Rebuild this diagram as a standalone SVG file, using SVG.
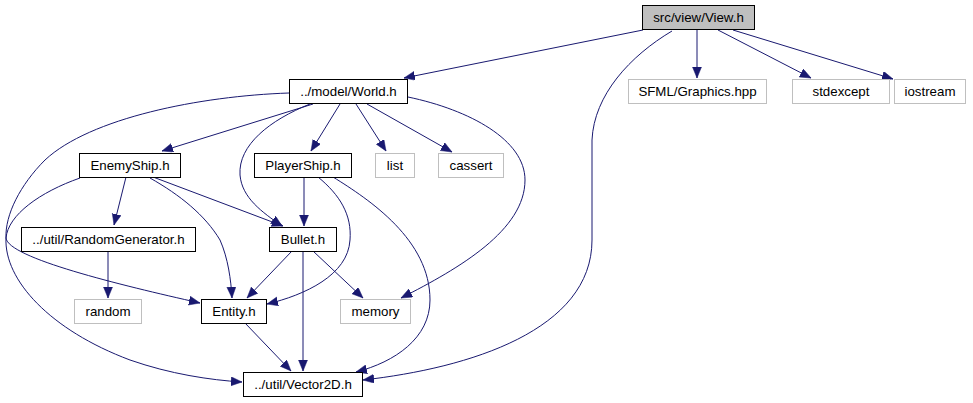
<svg xmlns="http://www.w3.org/2000/svg" width="973" height="403" viewBox="0 0 973 403">
<style>
.n rect{fill:#fff;stroke:#000;stroke-width:1}
.g rect{fill:#fff;stroke:#bfbfbf;stroke-width:1}
.r rect{fill:#bfbfbf;stroke:#000;stroke-width:1}
text{font-family:"Liberation Sans",Arial,sans-serif;font-size:13.3px;fill:#000;text-anchor:middle}
#edges path{fill:none;stroke:#191970;stroke-width:1;marker-end:url(#ah)}
</style>
<defs>
<marker id="ah" markerUnits="userSpaceOnUse" markerWidth="12" markerHeight="10" refX="11" refY="4.5" orient="auto">
<path d="M0,0 L11,4.5 L0,9 z" fill="#191970" stroke="#191970" stroke-width="0.5"/>
</marker>
</defs>
<rect width="973" height="403" fill="#fff"/>
<g id="edges">
<path d="M643,30 L404,78"/>
<path d="M672,31 C630,56 594,95 592,140 L592,240 C592,330 470,368 363,380"/>
<path d="M697,30 L697,78"/>
<path d="M718,30 L811,78"/>
<path d="M733,30 L893,79"/>
<path d="M313,104 L162,151"/>
<path d="M340,104 L311,151"/>
<path d="M356,104 L386,151"/>
<path d="M367,104 L452,152"/>
<path d="M310,104 C270,120 238,145 240,175 C242,198 262,212 282,226"/>
<path d="M289,93 C200,96 90,118 45,160 C20,185 5,215 6,238 C8,258 120,285 200,303"/>
<path d="M408,97 C470,110 525,140 525,180 C525,230 460,268 401,298"/>
<path d="M80,178 C40,192 8,215 6,238 C4,280 50,330 130,360 C170,374 210,380 242,382"/>
<path d="M150,178 C180,195 205,215 220,240 C228,258 231,280 232,298"/>
<path d="M126,177 L114,225"/>
<path d="M153,177 L283,226"/>
<path d="M304,177 L304,226"/>
<path d="M318,177 C340,195 352,215 350,240 C348,275 305,295 267,304"/>
<path d="M333,177 C370,200 430,240 430,300 C430,338 395,362 356,372"/>
<path d="M108,251 L108,298"/>
<path d="M292,251 L247,298"/>
<path d="M303,251 L303,371"/>
<path d="M313,251 L363,298"/>
<path d="M245,323 L291,371"/>
</g>
<g id="view" class="r"><rect x="642.5" y="5.5" width="112" height="24"/><text x="698.5" y="22">src/view/View.h</text></g>
<g id="sfml" class="g"><rect x="628.5" y="79.5" width="138" height="24"/><text x="697.5" y="96">SFML/Graphics.hpp</text></g>
<g id="stdexcept" class="g"><rect x="792.5" y="79.5" width="97" height="24"/><text x="841" y="96">stdexcept</text></g>
<g id="iostream" class="g"><rect x="894.5" y="79.5" width="71" height="24"/><text x="930" y="96">iostream</text></g>
<g id="world" class="n"><rect x="289.5" y="79.5" width="118" height="24"/><text x="348.5" y="96">../model/World.h</text></g>
<g id="enemyship" class="n"><rect x="79.5" y="153.5" width="101" height="24"/><text x="130" y="170">EnemyShip.h</text></g>
<g id="playership" class="n"><rect x="254.5" y="153.5" width="97" height="24"/><text x="303" y="170">PlayerShip.h</text></g>
<g id="list" class="g"><rect x="375.5" y="153.5" width="39" height="24"/><text x="395" y="170">list</text></g>
<g id="cassert" class="g"><rect x="438.5" y="153.5" width="65" height="24"/><text x="471" y="170">cassert</text></g>
<g id="randomgen" class="n"><rect x="21.5" y="227.5" width="174" height="24"/><text x="108.5" y="244">../util/RandomGenerator.h</text></g>
<g id="bullet" class="n"><rect x="269.5" y="227.5" width="67" height="24"/><text x="303" y="244">Bullet.h</text></g>
<g id="random" class="g"><rect x="74.5" y="299.5" width="67" height="24"/><text x="108" y="316">random</text></g>
<g id="entity" class="n"><rect x="201.5" y="299.5" width="65" height="24"/><text x="234" y="316">Entity.h</text></g>
<g id="memory" class="g"><rect x="340.5" y="299.5" width="70" height="24"/><text x="375.5" y="316">memory</text></g>
<g id="vector2d" class="n"><rect x="243.5" y="372.5" width="119" height="24"/><text x="303" y="389">../util/Vector2D.h</text></g>
</svg>
